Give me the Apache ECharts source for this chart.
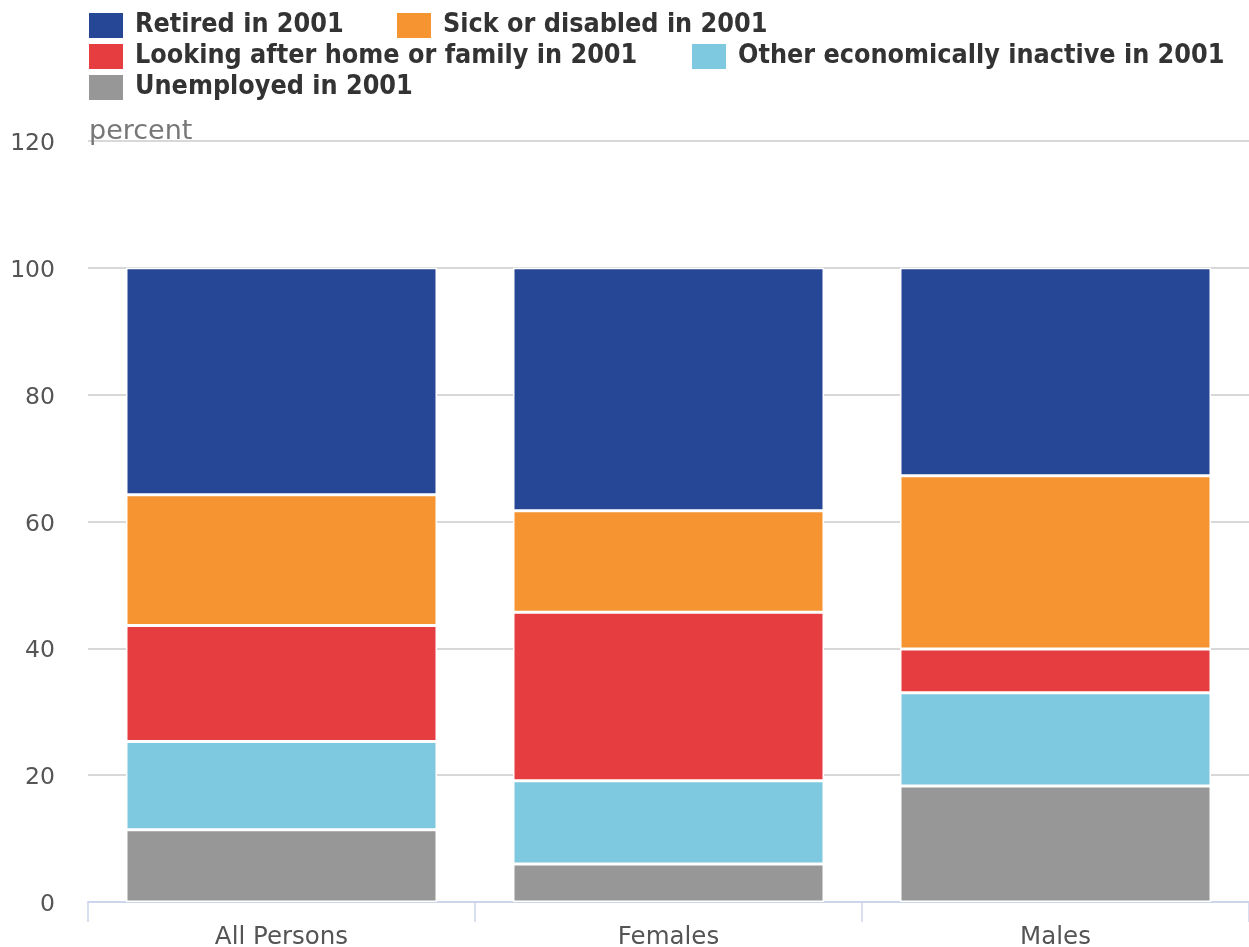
<!DOCTYPE html>
<html>
<head>
<meta charset="utf-8">
<script src="https://cdn.jsdelivr.net/npm/echarts@6/dist/echarts.min.js"></script>
<style>html,body{margin:0;padding:0;background:#fff}#c{width:1249px;height:947px}</style>
</head>
<body>
<div id="c"></div>
<script>
const categories = ['All Persons', 'Females', 'Males'];
const unemployed = [11.4, 6.0, 18.3];
const otherInactive = [13.9, 13.1, 14.7];
const lookingAfter = [18.3, 26.6, 6.9];
const sickDisabled = [20.6, 16.0, 27.3];
const retired = [35.8, 38.3, 32.8];
const yTicks = [0, 20, 40, 60, 80, 100, 120];

const seriesDefs = [
  {name: 'Unemployed in 2001', data: unemployed, color: '#979797'},
  {name: 'Other economically inactive in 2001', data: otherInactive, color: '#7ec8e0'},
  {name: 'Looking after home or family in 2001', data: lookingAfter, color: '#e63d40'},
  {name: 'Sick or disabled in 2001', data: sickDisabled, color: '#f59430'},
  {name: 'Retired in 2001', data: retired, color: '#264796'}
];

const legendPos = [
  {name: 'Retired in 2001', left: 87, top: 11},
  {name: 'Sick or disabled in 2001', left: 395, top: 11},
  {name: 'Looking after home or family in 2001', left: 87, top: 42},
  {name: 'Other economically inactive in 2001', left: 690, top: 42},
  {name: 'Unemployed in 2001', left: 87, top: 73}
];

const chart = echarts.init(document.getElementById('c'), null, {renderer: 'canvas'});
chart.setOption({
  animation: false,
  backgroundColor: '#fff',
  legend: legendPos.map(p => ({
    data: [p.name], left: p.left, top: p.top, padding: 0,
    itemWidth: 36, itemHeight: 27, icon: 'rect',
    textStyle: {fontFamily: 'DejaVu Sans Condensed', fontWeight: 'bold', fontSize: 26.7, color: '#333', padding: [2,0,0,6]}
  })),
  grid: {left: 88, right: 0, top: 141, bottom: 45, containLabel: false, outerBoundsMode: 'none'},
  xAxis: {
    type: 'category', data: categories, offset: 2,
    axisLine: {lineStyle: {color: '#ccd6eb', width: 2}},
    axisTick: {show: true, length: 20, lineStyle: {color: '#ccd6eb', width: 1.5}},
    axisLabel: {fontFamily: 'DejaVu Sans', fontSize: 24.5, color: '#555', margin: 21}
  },
  yAxis: {
    type: 'value', min: 0, max: 120, interval: 20,
    name: 'percent', nameLocation: 'end', nameGap: 0,
    nameTextStyle: {fontFamily: 'DejaVu Sans', fontSize: 27, color: '#777', align: 'left', verticalAlign: 'bottom', padding: [0,0,-4,1]},
    axisLine: {show: false}, axisTick: {show: false},
    axisLabel: {
      margin: 33,
      formatter: v => yTicks.includes(v) ? '{t|' + v + '}' : '',
      rich: {t: {fontFamily: 'DejaVu Sans', fontSize: 23.5, color: '#555', padding: [6, 0, 0, 0]}}
    },
    splitLine: {lineStyle: {color: ['#888', '#d8d8d8', '#d8d8d8', '#d8d8d8', '#d8d8d8', '#d8d8d8', '#d8d8d8'], width: 2}}
  },
  series: seriesDefs.map(s => ({
    name: s.name, type: 'bar', stack: 'total', data: s.data,
    barWidth: 311,
    itemStyle: {color: s.color, borderColor: '#fff', borderWidth: 1.5}
  }))
});
</script>
</body>
</html>
